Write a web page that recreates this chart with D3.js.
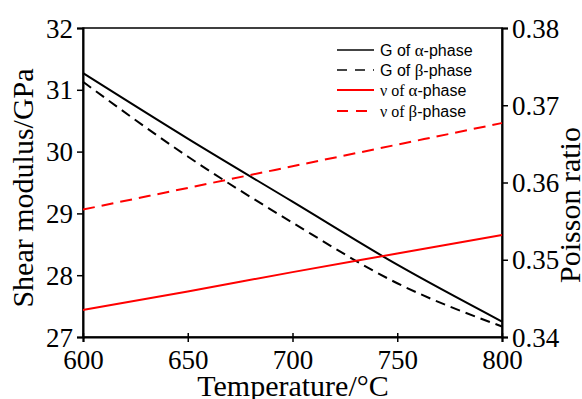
<!DOCTYPE html>
<html>
<head>
<meta charset="utf-8">
<script src="https://cdn.jsdelivr.net/npm/d3@7"></script>
<style>
  body { margin: 0; background: #fff; }
  svg text { fill: #000; }
</style>
</head>
<body>
<div id="chart"></div>
<script>
var temps = [600, 650, 700, 750, 800]
var gAlpha = [31.27, 30.21, 29.19, 28.17, 27.25]
var gBeta = [31.13, 29.92, 28.85, 27.87, 27.17]
var nuAlpha = [0.3435, 0.3459, 0.3484, 0.3508, 0.3532]
var nuBeta = [0.3565, 0.3593, 0.3621, 0.3649, 0.3677]
var xTicks = [600, 650, 700, 750, 800]
var gTicks = [27, 28, 29, 30, 31, 32]
var nuTicks = [0.34, 0.35, 0.36, 0.37, 0.38]

var w = 582, h = 399
var plotL = 83, plotR = 502, plotT = 28, plotB = 337

var svg = d3.select('#chart')
  .append('svg')
  .attr('width', w)
  .attr('height', h)

var x = d3.scaleLinear().domain([600, 800]).range([plotL, plotR])
var yG = d3.scaleLinear().domain([27, 32]).range([plotB, plotT])
var yNu = d3.scaleLinear().domain([0.34, 0.38]).range([plotB, plotT])

// frame
svg.append('rect')
  .attr('x', plotL).attr('y', plotT)
  .attr('width', plotR - plotL).attr('height', plotB - plotT)
  .attr('fill', 'none').attr('stroke', '#000').attr('stroke-width', 1.5)

var serif = '"Liberation Serif", "Times New Roman", serif'

var xAxis = svg.append('g')
  .attr('transform', 'translate(0,' + plotB + ')')
  .call(d3.axisBottom(x).tickValues(xTicks).tickSize(5).tickFormat(d3.format('d')))
var yAxisL = svg.append('g')
  .attr('transform', 'translate(' + plotL + ',0)')
  .call(d3.axisLeft(yG).tickValues(gTicks).tickSize(6).tickFormat(d3.format('d')))
var yAxisR = svg.append('g')
  .attr('transform', 'translate(' + plotR + ',0)')
  .call(d3.axisRight(yNu).tickValues(nuTicks).tickSize(6).tickFormat(d3.format('.2f')))

;[xAxis, yAxisL, yAxisR].forEach(function(a) {
  a.select('.domain').attr('stroke-width', 2)
  a.selectAll('.tick line').attr('stroke-width', 1.5)
  a.selectAll('text')
    .style('font-family', serif)
    .style('font-size', '27px')
    .attr('fill', '#000')
})
xAxis.selectAll('.tick line').attr('y1', -4)
xAxis.selectAll('text').attr('dy', 0).attr('y', 32)
yAxisL.selectAll('text').attr('x', -10).attr('dy', '0.34em')
yAxisR.selectAll('text').attr('x', 10).attr('dy', '0.34em')

// axis titles
svg.append('text')
  .attr('x', 293).attr('y', 396)
  .attr('text-anchor', 'middle')
  .style('font-family', serif).style('font-size', '30px')
  .text('Temperature/°C')

svg.append('text')
  .attr('transform', 'translate(33,188) rotate(-90)')
  .attr('text-anchor', 'middle')
  .style('font-family', serif).style('font-size', '30px')
  .text('Shear modulus/GPa')

svg.append('text')
  .attr('transform', 'translate(580,205) rotate(-90)')
  .attr('text-anchor', 'middle')
  .style('font-family', serif).style('font-size', '30px')
  .text('Poisson ratio')

// data lines
var series = [
  { vals: gAlpha, y: yG, color: '#000', dash: null },
  { vals: gBeta, y: yG, color: '#000', dash: '10,6' },
  { vals: nuAlpha, y: yNu, color: '#ff0000', dash: null },
  { vals: nuBeta, y: yNu, color: '#ff0000', dash: '12,7' }
]

series.forEach(function(s) {
  var line = d3.line()
    .x(function(d, i) { return x(temps[i]) })
    .y(function(d) { return s.y(d) })
    .curve(d3.curveMonotoneX)
  svg.append('path')
    .datum(s.vals)
    .attr('d', line)
    .attr('fill', 'none')
    .attr('stroke', s.color)
    .attr('stroke-width', 2)
    .attr('stroke-dasharray', s.dash)
})

// legend
var legendItems = [
  { sym: 'G', greek: 'α', color: '#444', dash: null, serifOf: false },
  { sym: 'G', greek: 'β', color: '#444', dash: '10,8', serifOf: false },
  { sym: 'ν', greek: 'α', color: '#ff0000', dash: null, serifOf: true },
  { sym: 'ν', greek: 'β', color: '#ff0000', dash: '11,8', serifOf: true }
]
var legendY = [50, 70, 90, 111]
var sans = '"Liberation Sans", Arial, sans-serif'

legendItems.forEach(function(d, i) {
  var yy = legendY[i]
  svg.append('line')
    .attr('x1', 337).attr('x2', 374)
    .attr('y1', yy).attr('y2', yy)
    .attr('stroke', d.color)
    .attr('stroke-width', 2)
    .attr('stroke-dasharray', d.dash)
  var t = svg.append('text')
    .attr('x', 380).attr('y', yy + 6)
    .style('font-family', sans).style('font-size', '16px')
  if (d.serifOf) {
    t.append('tspan').style('font-family', serif).text(d.sym + ' of ')
  } else {
    t.append('tspan').text(d.sym + ' of ')
  }
  t.append('tspan').style('font-family', serif).style('font-size', '17px').text(d.greek)
  t.append('tspan').text('-phase')
})
</script>
</body>
</html>
